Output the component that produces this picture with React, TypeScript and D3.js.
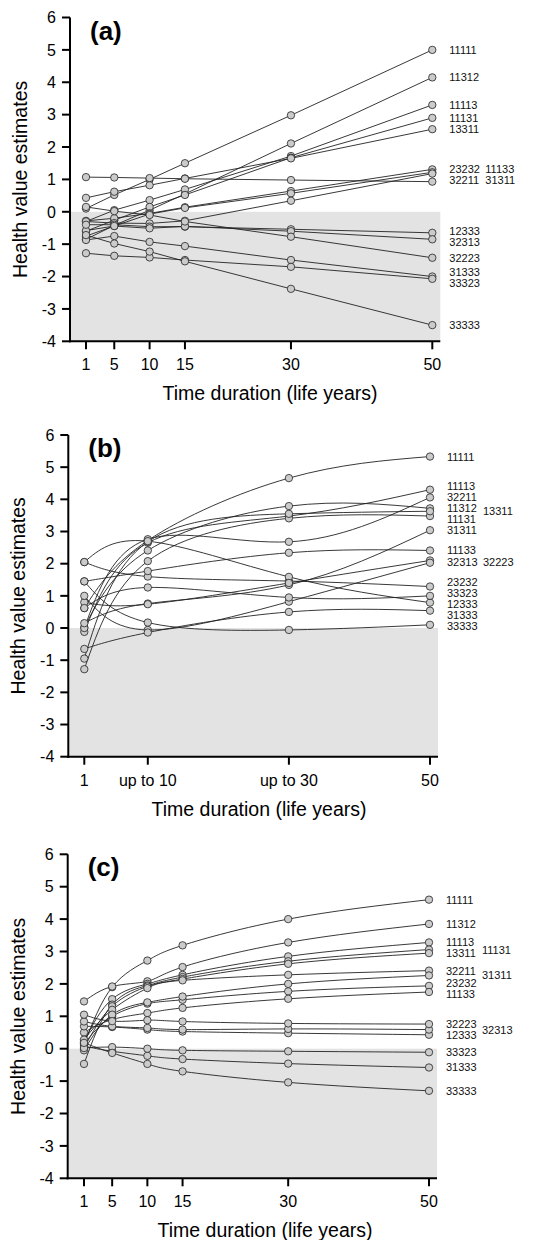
import React from 'react'
import * as d3 from 'd3'

// health states, same order in every value table
const STATES = ['11111', '11312', '11113', '11131', '13311', '23232', '11133', '32211', '31311', '12333', '32313', '32223', '31333', '33323', '33333']

const TIMES_A = [1, 5, 10, 15, 30, 50]
const TIMES_B = [1, 10, 30, 50]
const TIMES_C = [1, 5, 10, 15, 30, 50]

const TICK_LABELS_A = ['1', '5', '10', '15', '30', '50']
const TICK_LABELS_B = ['1', 'up to 10', 'up to 30', '50']
const TICK_LABELS_C = ['1', '5', '10', '15', '30', '50']

const Y_TICKS = [-4, -3, -2, -1, 0, 1, 2, 3, 4, 5, 6]

const VALUES_A = [
  [0.10, 0.52, 1.00, 1.50, 2.98, 5.00],
  [-0.85, -0.42, 0.05, 0.55, 2.11, 4.15],
  [-0.30, 0.05, 0.36, 0.69, 1.72, 3.30],
  [-0.60, -0.26, 0.15, 0.52, 1.67, 2.90],
  [0.43, 0.62, 0.82, 1.03, 1.65, 2.55],
  [-0.28, -0.20, -0.05, 0.14, 0.64, 1.31],
  [-0.58, -0.44, -0.07, 0.12, 0.57, 1.22],
  [-0.30, -0.35, -0.36, -0.28, 0.34, 1.18],
  [1.07, 1.06, 1.04, 1.02, 0.98, 0.93],
  [-0.40, -0.40, -0.46, -0.46, -0.54, -0.65],
  [-0.75, -0.44, -0.51, -0.45, -0.60, -0.85],
  [0.15, 0.02, -0.10, -0.30, -0.77, -1.42],
  [-0.87, -0.75, -0.93, -1.06, -1.49, -2.00],
  [-1.28, -1.36, -1.41, -1.49, -1.70, -2.07],
  [-0.72, -0.98, -1.23, -1.53, -2.38, -3.50],
]

const VALUES_B = [
  [0.62, 2.72, 4.66, 5.33],
  [0.02, 2.41, 3.79, 3.72],
  [-0.12, 2.65, 3.48, 4.30],
  [-1.28, 2.08, 3.41, 3.48],
  [-0.95, 2.68, 3.55, 3.63],
  [2.05, 1.60, 1.46, 1.29],
  [1.45, 1.77, 2.34, 2.41],
  [0.00, 2.76, 2.68, 4.06],
  [0.15, 0.76, 1.34, 3.04],
  [2.05, 2.70, 1.59, 0.79],
  [0.80, 0.74, 1.40, 2.10],
  [1.00, -0.06, 0.82, 2.03],
  [-0.65, -0.14, 0.50, 0.54],
  [0.62, 1.26, 0.95, 1.00],
  [1.45, 0.17, -0.06, 0.10],
]

const VALUES_C = [
  [0.12, 1.90, 2.72, 3.19, 4.00, 4.60],
  [1.46, 1.92, 2.08, 2.52, 3.28, 3.85],
  [0.23, 1.53, 2.00, 2.28, 2.85, 3.28],
  [-0.47, 1.36, 1.95, 2.21, 2.70, 3.06],
  [0.02, 1.31, 1.92, 2.15, 2.62, 2.95],
  [0.15, 1.00, 1.39, 1.51, 1.77, 1.94],
  [0.50, 0.90, 1.10, 1.26, 1.54, 1.75],
  [0.28, 1.20, 1.87, 2.11, 2.28, 2.41],
  [-0.05, 1.05, 1.43, 1.61, 2.00, 2.26],
  [0.69, 0.67, 0.59, 0.53, 0.48, 0.43],
  [0.84, 0.69, 0.64, 0.59, 0.61, 0.59],
  [1.05, 0.85, 0.88, 0.84, 0.78, 0.76],
  [0.08, -0.08, -0.22, -0.32, -0.46, -0.58],
  [0.02, 0.05, 0.00, -0.05, -0.08, -0.11],
  [0.18, -0.13, -0.47, -0.70, -1.04, -1.30],
]

// end labels: rows in the first column, "floats" sit in a second column at their own height
const ROWS_A = [['11111'], ['11312'], ['11113'], ['11131'], ['13311'], ['23232', '11133'], ['32211', '31311'], ['12333'], ['32313'], ['32223'], ['31333'], ['33323'], ['33333']]
const ROWS_B = [['11111'], ['11113'], ['32211'], ['11312'], ['11131'], ['31311'], ['11133'], ['32313', '32223'], ['23232'], ['33323'], ['12333'], ['31333'], ['33333']]
const ROWS_C = [['11111'], ['11312'], ['11113'], ['13311'], ['32211'], ['23232'], ['11133'], ['32223'], ['12333'], ['33323'], ['31333'], ['33333']]
const FLOATS_A: string[] = []
const FLOATS_B = ['13311']
const FLOATS_C = ['11131', '31311', '32313']

const FONT = '"Liberation Sans", Arial, Helvetica, sans-serif'

function Panel({ geo, times, values, tickLabels, letter, rows, floats, curve }: any) {
  const x = d3.scaleLinear().domain([1, 50]).range([geo.x1, geo.x50])
  const y = d3.scaleLinear().domain([-4, 6]).range([geo.yBot, geo.yTop])
  const line = d3.line<number>().x((_, i) => x(times[i])).y(d => y(d)).curve(curve)
  const last = times.length - 1
  const endOf = (name: string) => values[STATES.indexOf(name)][last]

  // spread the first-column labels so they don't overlap
  const rowPos = rows.map((r: string[]) => ({ r, t: y(d3.mean(r, endOf) as number) }))
  rowPos.sort((a: any, b: any) => a.t - b.t)
  const pos = rowPos.map((d: any) => d.t)
  const GAP = 11
  for (let k = 0; k < 200; k++) {
    for (let i = 0; i < pos.length - 1; i++) {
      const d = pos[i + 1] - pos[i]
      if (d < GAP) { const s = (GAP - d) / 2; pos[i] -= s; pos[i + 1] += s }
    }
  }
  const labX = geo.x50 + 17
  const right = geo.x50 + 8

  return (
    <g>
      <rect x={geo.axisX + 1} y={y(0)} width={right - geo.axisX - 1} height={y(-4) - y(0)} fill="#e3e3e3" />
      {values.map((v: number[], i: number) => (
        <path key={'l' + i} d={line(v) as string} fill="none" stroke="#222" strokeWidth={0.9} />
      ))}
      {values.map((v: number[], i: number) => v.map((d, j) => (
        <circle key={'p' + i + '_' + j} cx={x(times[j])} cy={y(d)} r={3.7} fill="#cbcbcb" stroke="#222" strokeWidth={0.8} />
      )))}
      {/* y axis */}
      <line x1={geo.axisX} x2={geo.axisX} y1={y(-4) + 1} y2={y(6)} stroke="#000" strokeWidth={2} />
      {Y_TICKS.map(t => (
        <g key={'yt' + t}>
          <line x1={geo.axisX - 8} x2={geo.axisX} y1={y(t)} y2={y(t)} stroke="#000" strokeWidth={2} />
          <text x={geo.axisX - 14} y={y(t)} dy="0.36em" textAnchor="end" fontSize={16} fontFamily={FONT}>{t}</text>
        </g>
      ))}
      {/* x axis */}
      <line x1={geo.axisX - 1} x2={right} y1={y(-4)} y2={y(-4)} stroke="#000" strokeWidth={2} />
      {times.map((t: number, i: number) => (
        <g key={'xt' + t}>
          <line x1={x(t)} x2={x(t)} y1={y(-4)} y2={y(-4) + 8} stroke="#000" strokeWidth={2} />
          <text x={x(t)} y={y(-4) + 29} textAnchor="middle" fontSize={16} fontFamily={FONT}>{tickLabels[i]}</text>
        </g>
      ))}
      <text x={geo.titleX} y={y(-4) + 59} textAnchor="middle" fontSize={19.5} fontFamily={FONT}>Time duration (life years)</text>
      <text transform={`translate(${geo.axisX - 43},${(y(6) + y(-4)) / 2}) rotate(-90)`} textAnchor="middle" fontSize={19.5} fontFamily={FONT}>Health value estimates</text>
      <text x={geo.axisX + 20} y={y(6) + 22} fontSize={26} fontWeight="bold" fontFamily={FONT}>{letter}</text>
      {/* end labels */}
      {rowPos.map((d: any, i: number) => d.r.map((name: string, j: number) => (
        <text key={'lab' + name} x={labX + j * 36} y={pos[i]} dy="0.36em" fontSize={11} fontFamily={FONT} fill="#111">{name}</text>
      )))}
      {floats.map((name: string) => (
        <text key={'fl' + name} x={labX + 36} y={y(endOf(name))} dy="0.36em" fontSize={11} fontFamily={FONT} fill="#111">{name}</text>
      ))}
    </g>
  )
}

export default function App() {
  const geoA = { axisX: 70, x1: 86, x50: 432.3, yTop: 17.5, yBot: 341.3, titleX: 270 }
  const geoB = { axisX: 68.3, x1: 84.3, x50: 430, yTop: 435, yBot: 756.7, titleX: 259 }
  const geoC = { axisX: 67.7, x1: 84, x50: 429, yTop: 854.3, yBot: 1178.3, titleX: 265 }
  return (
    <div style={{ position: 'absolute', left: 0, top: 0 }}>
      <svg width={536} height={1240} style={{ display: 'block', background: '#fff' }}>
        <Panel geo={geoA} times={TIMES_A} values={VALUES_A} tickLabels={TICK_LABELS_A} letter="(a)" rows={ROWS_A} floats={FLOATS_A} curve={d3.curveLinear} />
        <Panel geo={geoB} times={TIMES_B} values={VALUES_B} tickLabels={TICK_LABELS_B} letter="(b)" rows={ROWS_B} floats={FLOATS_B} curve={d3.curveNatural} />
        <Panel geo={geoC} times={TIMES_C} values={VALUES_C} tickLabels={TICK_LABELS_C} letter="(c)" rows={ROWS_C} floats={FLOATS_C} curve={d3.curveNatural} />
      </svg>
    </div>
  )
}
